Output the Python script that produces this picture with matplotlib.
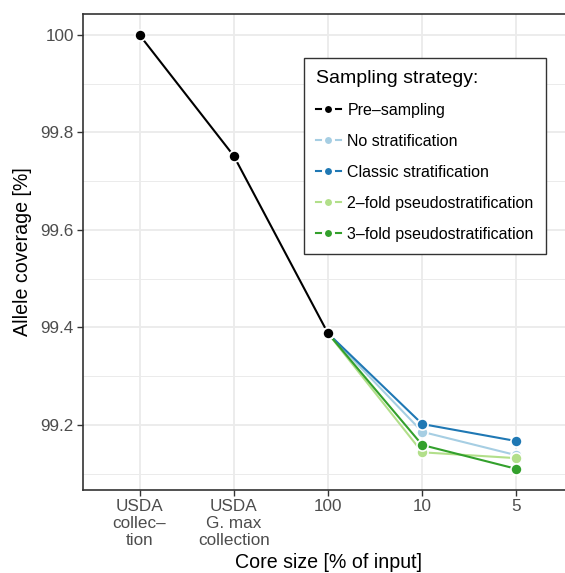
from matplotlib import pyplot as plt
from matplotlib.lines import Line2D
import numpy as np

plt.rcParams['font.family'] = ['Liberation Sans', 'DejaVu Sans']

# x categories (core size)
categories = ['USDA\ncollec–\ntion', 'USDA\nG. max\ncollection', '100', '10', '5']

# pre-sampling: full collections down to the 100% core
pre_sampling = [100.0, 99.752, 99.388]

# sampling strategies at 100, 10 and 5 %
no_strat = [99.388, 99.186, 99.138]
classic_strat = [99.388, 99.202, 99.167]
pseudo_2fold = [99.388, 99.144, 99.132]
pseudo_3fold = [99.388, 99.159, 99.110]

series_names = ['Pre–sampling', 'No stratification', 'Classic stratification',
                '2–fold pseudostratification', '3–fold pseudostratification']
colors = ['#000000', '#A6CEE3', '#1F78B4', '#B2DF8A', '#33A02C']

W, H = 565, 573
fig = plt.figure(figsize=(W / 100, H / 100), dpi=100)
ax = fig.add_axes([83 / W, 1 - 490 / H, (573 - 83) / W, (490 - 14) / H])

x_pre = np.arange(1, 4)
x_strat = np.arange(3, 6)
strat_data = [no_strat, classic_strat, pseudo_2fold, pseudo_3fold]

# lines first, then points on top (like geom_line + geom_point)
ax.plot(x_pre, pre_sampling, color=colors[0], lw=1.5, zorder=3)
for vals, c in zip(strat_data, colors[1:]):
    ax.plot(x_strat, vals, color=c, lw=1.5, zorder=3)

mk = dict(marker='o', ms=8, mec='white', mew=1.2, ls='none', zorder=4)
for vals, c in zip(strat_data, colors[1:]):
    ax.plot(x_strat, vals, mfc=c, **mk)
ax.plot(x_pre, pre_sampling, mfc=colors[0], **mk)

ax.set_xlim(0.4, 5.6)
ax.set_ylim(99.0667, 100.043)
ax.set_xticks(np.arange(1, 6))
ax.set_xticklabels(categories, linespacing=1.15)
yt = [99.2, 99.4, 99.6, 99.8, 100.0]
ax.set_yticks(yt)
ax.set_yticklabels(['99.2', '99.4', '99.6', '99.8', '100'])
ax.set_yticks([99.1, 99.3, 99.5, 99.7, 99.9], minor=True)

ax.grid(True, which='major', color='#EBEBEB', lw=1.3, zorder=0)
ax.grid(True, which='minor', axis='y', color='#EBEBEB', lw=0.7, zorder=0)
ax.set_axisbelow(True)
ax.tick_params(which='major', length=4, width=1, color='#333333',
               labelsize=12.3, labelcolor='#4D4D4D', pad=2.5)
ax.tick_params(which='minor', length=0)
for sp in ax.spines.values():
    sp.set_color('#333333')
    sp.set_linewidth(1.2)
ax.spines['right'].set_visible(False)

ax.set_xlabel('Core size [% of input]', fontsize=14.1, labelpad=4)
ax.set_ylabel('Allele coverage [%]', fontsize=14.1, labelpad=6)

handles = [Line2D([], [], color=c, lw=1.5, marker='o', ms=7.2, mfc=c, mec='white', mew=2.2)
           for c in colors]
leg = ax.legend(handles, series_names, title='Sampling strategy:', loc='upper left',
                bbox_to_anchor=((304 - 83) / 490, 1 - (58 - 14) / 476),
                fontsize=11.5, title_fontsize=14, frameon=True, fancybox=False,
                edgecolor='#333333', framealpha=1, handlelength=1.56,
                handletextpad=0.4, labelspacing=1.0, borderpad=0.75,
                borderaxespad=0)
leg.get_frame().set_linewidth(1.0)
leg._legend_box.align = 'left'

fig.savefig('out.png', dpi=100)
